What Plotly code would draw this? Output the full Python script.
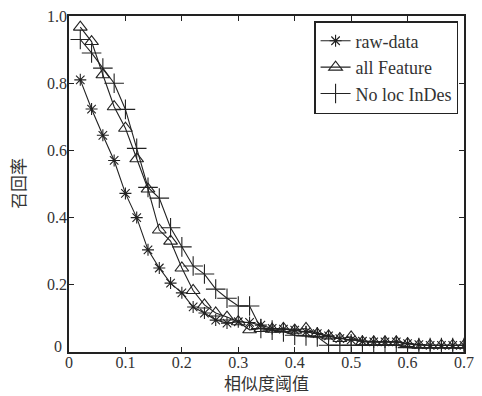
import plotly.graph_objects as go

thresholds = [round(0.02 * i, 2) for i in range(1, 36)]

raw_data = [0.81, 0.723, 0.645, 0.57, 0.472, 0.40, 0.304, 0.25, 0.205, 0.176,
            0.134, 0.116, 0.095, 0.086, 0.09, 0.088, 0.08, 0.07, 0.068, 0.065,
            0.06, 0.055, 0.048, 0.04, 0.036, 0.032, 0.03, 0.03, 0.03, 0.025,
            0.022, 0.02, 0.02, 0.02, 0.02]

all_feature = [0.967, 0.924, 0.825, 0.73, 0.666, 0.575, 0.485, 0.363, 0.33, 0.25,
               0.183, 0.14, 0.116, 0.104, 0.09, 0.066, 0.07, 0.068, 0.07, 0.065,
               0.07, 0.054, 0.048, 0.04, 0.045, 0.03, 0.03, 0.03, 0.03, 0.025,
               0.02, 0.02, 0.02, 0.02, 0.02]

no_loc_indes = [0.93, 0.89, 0.845, 0.80, 0.722, 0.606, 0.49, 0.458, 0.37, 0.313,
                0.256, 0.232, 0.187, 0.16, 0.137, 0.137, 0.07, 0.065, 0.06, 0.05,
                0.048, 0.045, 0.02, 0.02, 0.02, 0.02, 0.02, 0.02, 0.02, 0.013,
                0.013, 0.013, 0.013, 0.013, 0.013]

series_names = ["raw-data", "all Feature", "No loc InDes"]
x_ticks = [0, 0.1, 0.2, 0.3, 0.4, 0.5, 0.6, 0.7]
x_tick_text = ["0", "0.1", "0.2", "0.3", "0.4", "0.5", "0.6", "0.7"]
y_ticks = [0, 0.2, 0.4, 0.6, 0.8, 1.0]
y_tick_text = ["0", "0.2", "0.4", "0.6", "0.8", "1.0"]
x_title = "相似度阈值"
y_title = "召回率"

serif = "Liberation Serif"
cjk = "Noto Sans CJK SC"
ink = "#222222"
txt = "#333333"

fig = go.Figure()
styles = [("asterisk-open", 10), ("triangle-up-open", 12), ("cross-thin-open", 14)]
for name, ys, (sym, sz) in zip(series_names, [raw_data, all_feature, no_loc_indes], styles):
    fig.add_trace(go.Scatter(
        x=thresholds, y=ys, name=name, mode="lines+markers",
        line=dict(color=ink, width=1.1),
        marker=dict(symbol=sym, size=sz, color=ink, line=dict(color=ink, width=1.1)),
    ))

axis_common = dict(
    showline=True, linecolor=ink, linewidth=1.5, mirror="ticks",
    ticks="inside", ticklen=5, tickcolor=ink, tickwidth=1,
    showgrid=False, zeroline=False, automargin=False,
    tickfont=dict(family=serif, size=16, color=txt),
)

# y-axis: the "0" label sits slightly raised (as in the reference), drawn as annotation
y_ticktext_shown = [t if v != 0 else "" for v, t in zip(y_ticks, y_tick_text)]

fig.update_layout(
    width=482, height=396,
    margin=dict(l=69, r=18, t=16, b=44),
    plot_bgcolor="white", paper_bgcolor="white",
    showlegend=True,
    legend=dict(
        x=0.985, y=0.985, xanchor="right", yanchor="top",
        bordercolor=ink, borderwidth=1.5, bgcolor="white",
        font=dict(family=serif, size=18, color=txt),
        tracegroupgap=0, itemwidth=30,
    ),
    xaxis=dict(range=[0, 0.7], tickvals=x_ticks, ticktext=x_tick_text,
               ticklabelstandoff=-5, **axis_common),
    yaxis=dict(range=[0, 1.0], tickvals=y_ticks, ticktext=y_ticktext_shown,
               ticklabelstandoff=-3, **axis_common),
    annotations=[
        dict(text=y_tick_text[0], xref="paper", yref="y", x=0, y=y_ticks[0],
             xshift=-5, yshift=6, xanchor="right", yanchor="middle", showarrow=False,
             font=dict(family=serif, size=16, color=txt)),
        dict(text=x_title, xref="paper", yref="paper", x=0.5, y=0, yshift=-45,
             xanchor="center", yanchor="bottom", showarrow=False,
             font=dict(family=cjk, size=17, color=txt)),
        dict(text=y_title, xref="paper", yref="paper", x=0, y=0.5, xshift=-52,
             xanchor="center", yanchor="middle", showarrow=False, textangle=-90,
             font=dict(family=cjk, size=17, color=txt)),
    ],
)

fig.write_html("out.html", config={"displayModeBar": False},
               post_script="document.body.style.margin='0';")
